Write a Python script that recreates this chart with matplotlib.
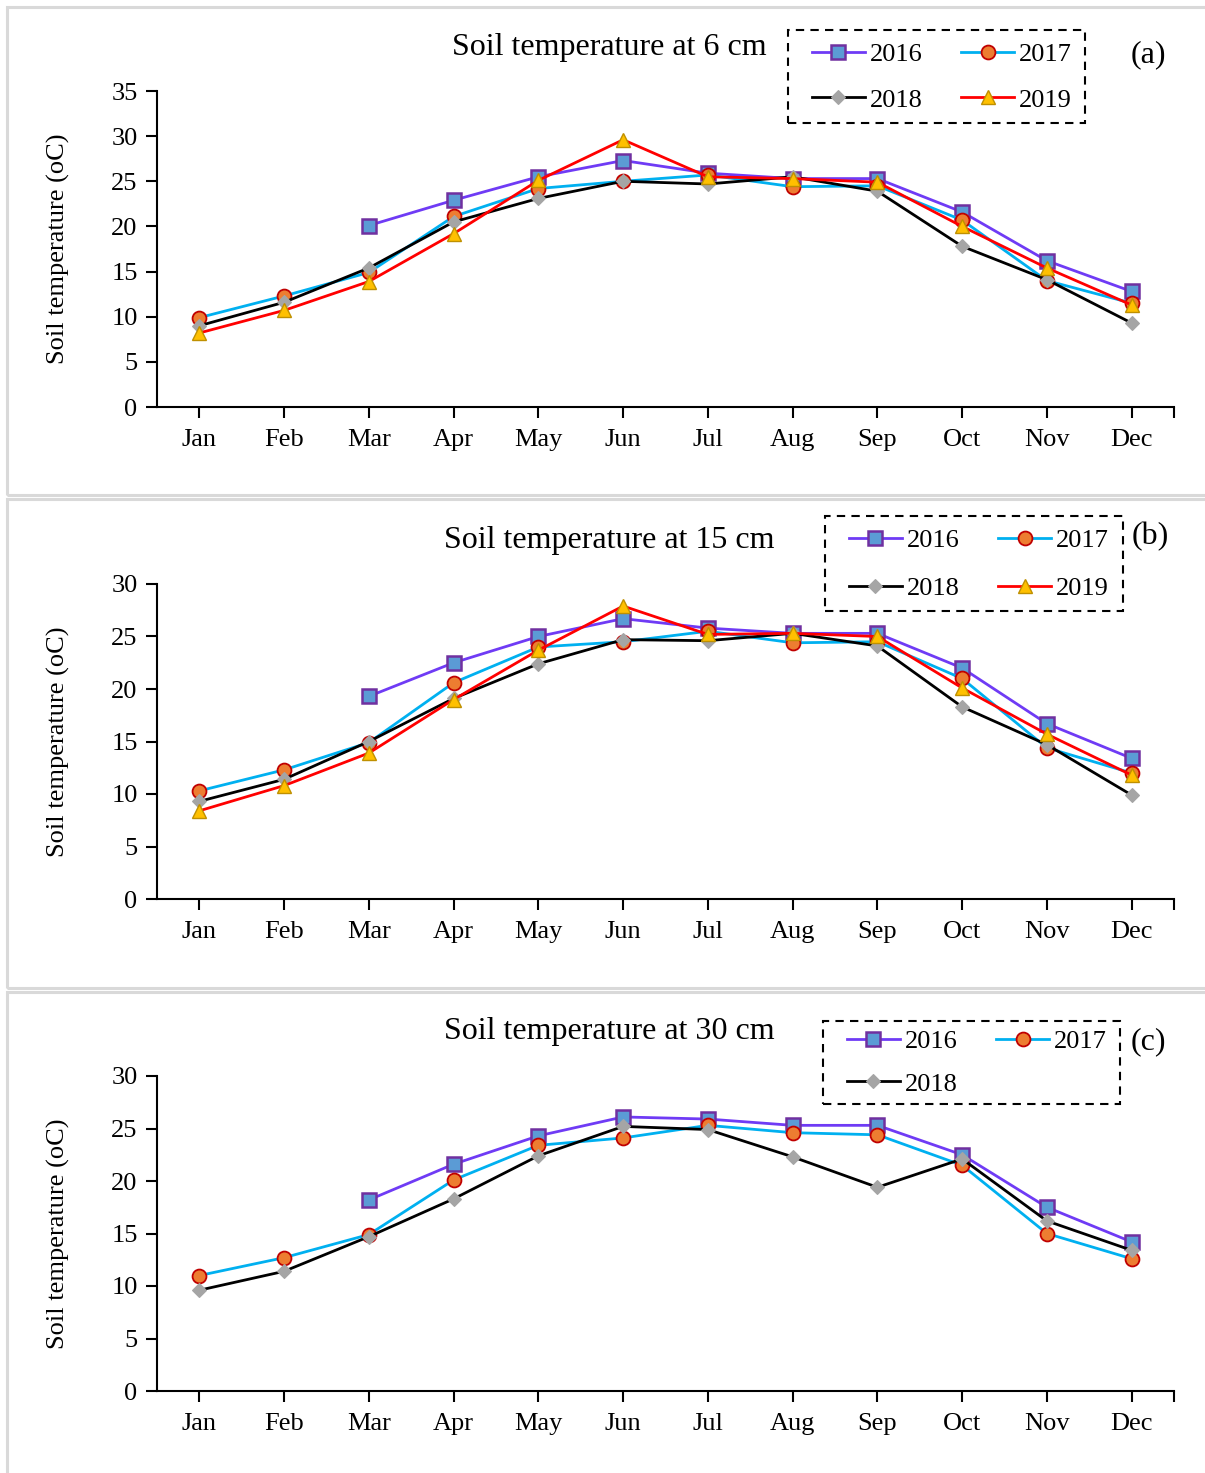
import matplotlib
matplotlib.use("Agg")
import matplotlib.pyplot as plt
from matplotlib.patches import Rectangle
import numpy as np

plt.rcParams['font.family'] = ['Liberation Serif', 'DejaVu Serif']

months = ["Jan", "Feb", "Mar", "Apr", "May", "Jun",
          "Jul", "Aug", "Sep", "Oct", "Nov", "Dec"]
nan = np.nan

# Soil temperature at 6 cm (oC)
t6_2016 = [nan, nan, 20.1, 22.9, 25.5, 27.3, 25.9, 25.3, 25.3, 21.6, 16.2, 12.8]
t6_2017 = [9.9, 12.3, 14.9, 21.1, 24.2, 25.0, 25.7, 24.4, 24.5, 20.7, 14.0, 11.5]
t6_2018 = [9.0, 11.6, 15.4, 20.5, 23.1, 25.0, 24.7, 25.5, 23.9, 17.8, 14.1, 9.3]
t6_2019 = [8.2, 10.7, 13.9, 19.2, 25.1, 29.6, 25.5, 25.3, 24.9, 20.0, 15.4, 11.3]

# Soil temperature at 15 cm (oC)
t15_2016 = [nan, nan, 19.3, 22.5, 25.0, 26.7, 25.8, 25.3, 25.3, 22.0, 16.7, 13.4]
t15_2017 = [10.3, 12.3, 14.9, 20.6, 24.0, 24.5, 25.5, 24.4, 24.5, 21.0, 14.4, 12.0]
t15_2018 = [9.3, 11.4, 15.0, 19.1, 22.4, 24.7, 24.6, 25.3, 24.1, 18.3, 14.7, 9.9]
t15_2019 = [8.4, 10.8, 13.9, 19.0, 23.7, 27.9, 25.2, 25.3, 25.0, 20.1, 15.7, 11.8]

# Soil temperature at 30 cm (oC)
t30_2016 = [nan, nan, 18.2, 21.6, 24.3, 26.1, 25.9, 25.3, 25.3, 22.5, 17.5, 14.2]
t30_2017 = [11.0, 12.7, 14.9, 20.1, 23.4, 24.1, 25.3, 24.6, 24.4, 21.5, 15.0, 12.6]
t30_2018 = [9.6, 11.4, 14.7, 18.3, 22.4, 25.2, 24.9, 22.3, 19.4, 22.1, 16.2, 13.4]

# Series styles
styles = {
    "2016": dict(color="#6F3BF5", marker="s", ms=10, mfc="#5B9BD5", mec="#7030A0", mew=1.8),
    "2017": dict(color="#00B0F0", marker="o", ms=10, mfc="#ED7D31", mec="#C00000", mew=1.3),
    "2018": dict(color="black", marker="D", ms=7, mfc="#A5A5A5", mec="#A5A5A5", mew=0.8),
    "2019": dict(color="#FF0000", marker="^", ms=10.5, mfc="#FFC000", mec="#BF9000", mew=1.0),
}

# Pixel layout of each panel (figure is 1205 x 1473 px)
panels = [
    dict(title="Soil temperature at 6 cm", tag="(a)", ymax=35,
         series={"2016": t6_2016, "2017": t6_2017, "2018": t6_2018, "2019": t6_2019},
         ax_box=(91, 407), frame=(7, 495), legend_box=(788, 30, 1085, 123),
         legend_anchor=(812, 43), labelspacing=0.82,
         title_xy=(609, 48), tag_xy=(1148, 55)),
    dict(title="Soil temperature at 15 cm", tag="(b)", ymax=30,
         series={"2016": t15_2016, "2017": t15_2017, "2018": t15_2018, "2019": t15_2019},
         ax_box=(584, 899), frame=(499, 988), legend_box=(825, 516, 1123, 611),
         legend_anchor=(849, 529), labelspacing=0.93,
         title_xy=(609, 540), tag_xy=(1150, 537)),
    dict(title="Soil temperature at 30 cm", tag="(c)", ymax=30,
         series={"2016": t30_2016, "2017": t30_2017, "2018": t30_2018},
         ax_box=(1076, 1391), frame=(992, 1480), legend_box=(823, 1021, 1120, 1104),
         legend_anchor=(847, 1030), labelspacing=0.71,
         title_xy=(609, 1032), tag_xy=(1148, 1042)),
]

W, H = 1205, 1473
fig = plt.figure(figsize=(W / 100, H / 100), dpi=100)

def fx(px):
    return px / W

def fy(py):
    return 1 - py / H

x = np.arange(len(months))
AX_L, AX_R = 157, 1174

for p in panels:
    # light gray frame around each panel
    top, bot = p["frame"]
    fig.patches.append(Rectangle((fx(7), fy(bot)), fx(1230) - fx(7), fy(top) - fy(bot),
                                 transform=fig.transFigure, fill=False,
                                 edgecolor="#D9D9D9", lw=2.2, zorder=0))

    y0, y1 = p["ax_box"]
    ax = fig.add_axes([fx(AX_L), fy(y1), fx(AX_R) - fx(AX_L), fy(y0) - fy(y1)])
    lines = {}
    for name, vals in p["series"].items():
        st = styles[name]
        ln, = ax.plot(x, vals, lw=2.0, color=st["color"], marker=st["marker"],
                      markersize=st["ms"], markerfacecolor=st["mfc"],
                      markeredgecolor=st["mec"], markeredgewidth=st["mew"],
                      label=name, clip_on=False)
        lines[name] = ln

    ax.set_xlim(-0.5, 11.5)
    ax.set_ylim(0, p["ymax"])
    ax.set_yticks(np.arange(0, p["ymax"] + 1, 5))
    ax.set_xticks(list(x) + [11.5])
    ax.set_xticklabels(months + [""])
    for s in ("top", "right"):
        ax.spines[s].set_visible(False)
    for s in ("left", "bottom"):
        ax.spines[s].set_linewidth(1.5)
    ax.tick_params(axis="both", direction="out", length=8, width=1.5,
                   labelsize=19, colors="black")
    ax.tick_params(axis="x", pad=8)
    ax.tick_params(axis="y", pad=6)
    ax.set_ylabel("Soil temperature (oC)", fontsize=19)
    ax.yaxis.set_label_coords((70 - AX_L) / (AX_R - AX_L), 0.5)

    fig.text(fx(p["title_xy"][0]), fy(p["title_xy"][1]), p["title"], fontsize=23,
             ha="center", va="center")
    fig.text(fx(p["tag_xy"][0]), fy(p["tag_xy"][1]), p["tag"], fontsize=23,
             ha="center", va="center")

    # legend entries laid out row by row: (2016, 2017) then (2018, 2019)
    order = [n for n in ("2016", "2018", "2017", "2019") if n in lines]
    handles = [lines[n] for n in order]
    ax_anchor = p["legend_anchor"]
    leg = ax.legend(handles=handles, ncol=2, loc="upper left",
                    bbox_to_anchor=(fx(ax_anchor[0]), fy(ax_anchor[1])),
                    bbox_transform=fig.transFigure,
                    fontsize=19, frameon=False, borderpad=0,
                    handlelength=2.0, handletextpad=0.2, columnspacing=1.45,
                    labelspacing=p["labelspacing"], borderaxespad=0)

    # dashed box around the legend
    bx0, by0, bx1, by1 = p["legend_box"]
    fig.patches.append(Rectangle((fx(bx0), fy(by1)), fx(bx1) - fx(bx0), fy(by0) - fy(by1),
                                 transform=fig.transFigure, fill=False,
                                 edgecolor="black", lw=1.5, linestyle=(0, (4, 3)),
                                 zorder=5))

fig.savefig("out.png", dpi=100)
